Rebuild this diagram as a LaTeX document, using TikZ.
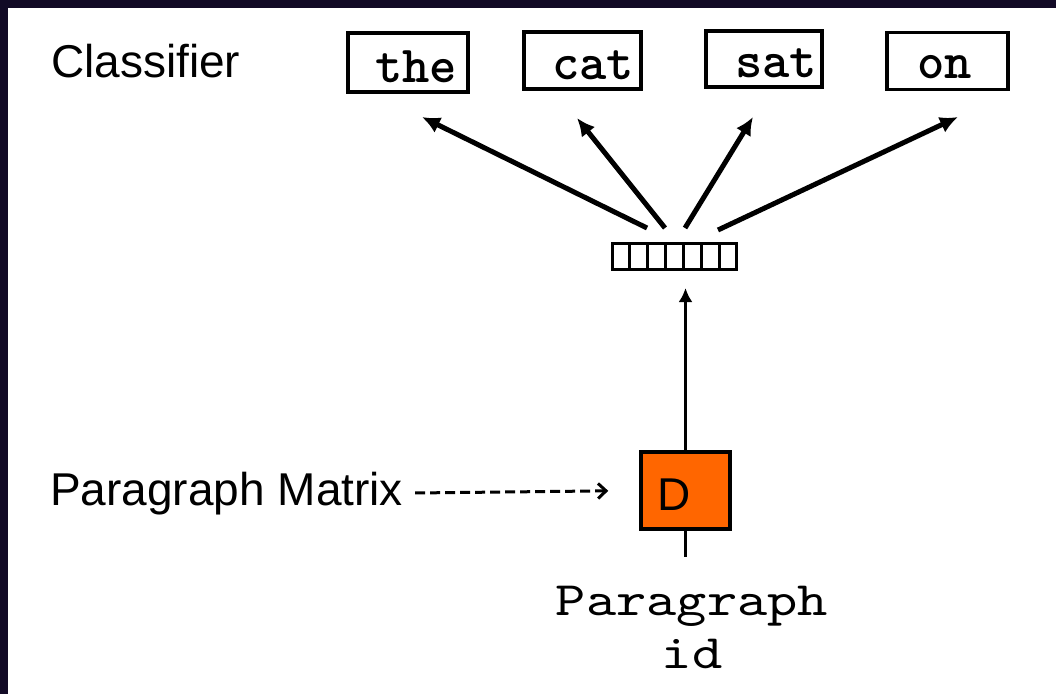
\documentclass[tikz,border=0pt]{standalone}
\usepackage{fontspec}
\setmainfont{Liberation Sans}
\newfontfamily\wordfont{lmmonolt10-bold.otf}
\newfontfamily\idfont{lmmono10-regular.otf}[FakeStretch=1.2]
\usetikzlibrary{arrows.meta,calc}
\definecolor{frame}{HTML}{120A26}
\definecolor{dorange}{HTML}{FF6600}

\begin{document}
\begin{tikzpicture}[x=1pt,y=-1pt,
  lbl/.style={font=\fontsize{46}{55}\selectfont, inner sep=0pt, anchor=base west},
  wordbox/.style={draw, line width=3.5pt, inner sep=0pt},
  wordtext/.style={font=\wordfont\fontsize{52}{60}\selectfont, inner sep=0pt, anchor=base},
  fanarrow/.style={line width=5pt, -{Latex[length=18pt,width=17pt]}},
  uparrow/.style={line width=3.5pt, -{Latex[length=14pt,width=14pt]}},
  dasharrow/.style={line width=3pt, dash pattern=on 10pt off 5pt, -{Straight Barb[length=8pt,width=15pt]}}
]
\useasboundingbox (0,0) rectangle (1056,694);
\fill[white] (0,0) rectangle (1056,694);
\fill[frame] (0,0) rectangle (1056,8);
\fill[frame] (0,0) rectangle (8,694);

% labels on the left
\node[lbl] (cls) at (51,77) {Classifier};
\node[lbl] (pm) at (50,505) {Paragraph Matrix};

% predicted words
\node[wordbox, minimum width=120pt, minimum height=59pt] (bthe) at (408,62.5) {};
\node[wordbox, minimum width=117pt, minimum height=57pt] (bcat) at (582.5,60.5) {};
\node[wordbox, minimum width=116pt, minimum height=56pt] (bsat) at (764,59) {};
\node[wordbox, minimum width=121pt, minimum height=57pt] (bon) at (947.5,61) {};
\node[wordtext] (tthe) at (416,82) {the};
\node[wordtext] (tcat) at (593,79) {cat};
\node[wordtext] (tsat) at (776,77) {sat};
\node[wordtext] (ton) at (944.5,78) {on};

% paragraph vector
\node[draw, line width=3pt, minimum width=124pt, minimum height=26pt, inner sep=0pt] (vec) at (674.5,256.5) {};
\foreach \i in {1,...,6}
  \draw[line width=3pt] ($(vec.north west)!\i/7!(vec.north east)$) -- ($(vec.south west)!\i/7!(vec.south east)$);

% fan of arrows to the classifier outputs
\coordinate (t1) at (647,228); \coordinate (h1) at (422,117);
\coordinate (t2) at (665,228); \coordinate (h2) at (577,118);
\coordinate (t3) at (685,228); \coordinate (h3) at (753,117);
\coordinate (t4) at (718,230); \coordinate (h4) at (958,117);
\draw[fanarrow] (t1) -- (h1);
\draw[fanarrow] (t2) -- (h2);
\draw[fanarrow] (t3) -- (h3);
\draw[fanarrow] (t4) -- (h4);

% paragraph matrix cell
\node[draw, fill=dorange, line width=3.5pt, minimum width=89pt, minimum height=77pt, inner sep=0pt] (D) at (685.5,490.5) {};
\node[lbl] (dlab) at (657,510) {D};
\draw[uparrow, shorten >=17pt] (D.north) -- (D.north |- vec.south);
\coordinate (stub) at (685.5,557);
\draw[line width=3.5pt] (D.south) -- (stub);
\draw[dasharrow, shorten <=12pt, shorten >=31pt] (pm.east) -- (D.west);

% input token
\node[font=\idfont\fontsize{48}{53}\selectfont, align=center, inner sep=0pt, anchor=north] (pid) at (692,585.7) {Paragraph\\id};
\end{tikzpicture}
\end{document}
